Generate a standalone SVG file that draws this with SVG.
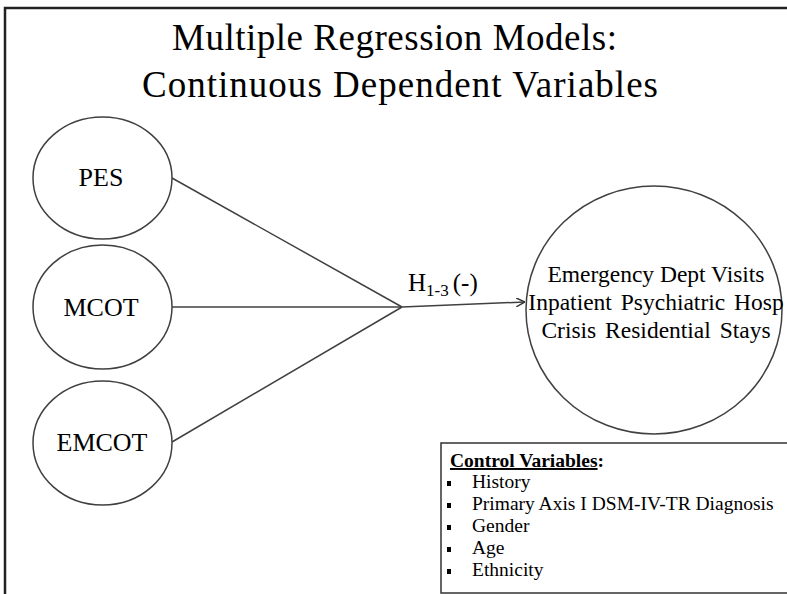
<svg xmlns="http://www.w3.org/2000/svg" width="787" height="594" viewBox="0 0 787 594">
  <style>
    .t { font-family: "Liberation Serif", "Times New Roman", serif; fill: #000; }
    .node { fill: #fff; stroke: #404040; stroke-width: 1.5; }
    .edge { fill: none; stroke: #404040; stroke-width: 1.5; }
    .frame { fill: none; stroke: #222; stroke-width: 2.5; }
    .cv { font-size: 19.5px; }
  </style>
  <defs>
    <marker id="arrow" viewBox="0 0 10 10" refX="10" refY="5" markerWidth="9" markerHeight="9" markerUnits="userSpaceOnUse" orient="auto">
      <path d="M0,0 L10,5 L0,10" fill="none" stroke="#333" stroke-width="1.6"/>
    </marker>
  </defs>

  <rect width="787" height="594" fill="#fff"/>

  <!-- outer frame: top and left edges -->
  <path class="frame" d="M5,600 L5,8 L790,8"/>

  <!-- title -->
  <g id="title">
    <text class="t" x="172" y="50" font-size="37" textLength="445" lengthAdjust="spacing">Multiple Regression Models:</text>
    <text class="t" x="142" y="97" font-size="37" textLength="516" lengthAdjust="spacing">Continuous Dependent Variables</text>
  </g>

  <!-- connectors -->
  <g id="connectors">
    <line class="edge" x1="172" y1="178" x2="402" y2="307"/>
    <line class="edge" x1="172" y1="307" x2="402" y2="307"/>
    <line class="edge" x1="172" y1="442" x2="402" y2="307"/>
    <line class="edge" x1="402" y1="307" x2="525" y2="302" marker-end="url(#arrow)"/>
    <text class="t" x="408" y="291" font-size="25">H<tspan font-size="17" dy="5">1-3</tspan><tspan dy="-5" dx="4">(-)</tspan></text>
  </g>

  <!-- predictor nodes -->
  <g id="node-pes">
    <ellipse class="node" cx="102.5" cy="178" rx="69.5" ry="61"/>
    <text class="t" x="101" y="186" font-size="26" text-anchor="middle">PES</text>
  </g>
  <g id="node-mcot">
    <ellipse class="node" cx="102.5" cy="307" rx="69.5" ry="62"/>
    <text class="t" x="101" y="316" font-size="26" text-anchor="middle">MCOT</text>
  </g>
  <g id="node-emcot">
    <ellipse class="node" cx="102.5" cy="443" rx="69.5" ry="62"/>
    <text class="t" x="102" y="451" font-size="26" text-anchor="middle">EMCOT</text>
  </g>

  <!-- outcome node -->
  <g id="node-outcomes">
    <ellipse class="node" cx="654" cy="310" rx="128" ry="124"/>
    <text class="t" x="656" y="282" font-size="23.5" text-anchor="middle">Emergency Dept Visits</text>
    <text class="t" x="656" y="310" font-size="23.5" text-anchor="middle" word-spacing="3">Inpatient Psychiatric Hosp</text>
    <text class="t" x="656" y="338" font-size="23.5" text-anchor="middle" word-spacing="3">Crisis Residential Stays</text>
  </g>

  <!-- control variables box -->
  <g id="control-variables">
    <path d="M790,443 L441,443 L441,593 L790,593" fill="#fff" stroke="#333" stroke-width="1.5"/>
    <text class="t cv" x="450" y="467" font-weight="bold"><tspan text-decoration="underline">Control Variables</tspan>:</text>
    <g fill="#000">
      <rect x="447" y="481" width="4" height="5"/>
      <rect x="447" y="503" width="4" height="5"/>
      <rect x="447" y="525" width="4" height="5"/>
      <rect x="447" y="547" width="4" height="5"/>
      <rect x="447" y="569" width="4" height="5"/>
    </g>
    <text class="t cv" x="472" y="488">History</text>
    <text class="t cv" x="472" y="510">Primary Axis I DSM-IV-TR Diagnosis</text>
    <text class="t cv" x="472" y="532">Gender</text>
    <text class="t cv" x="472" y="554">Age</text>
    <text class="t cv" x="472" y="576">Ethnicity</text>
  </g>
</svg>
